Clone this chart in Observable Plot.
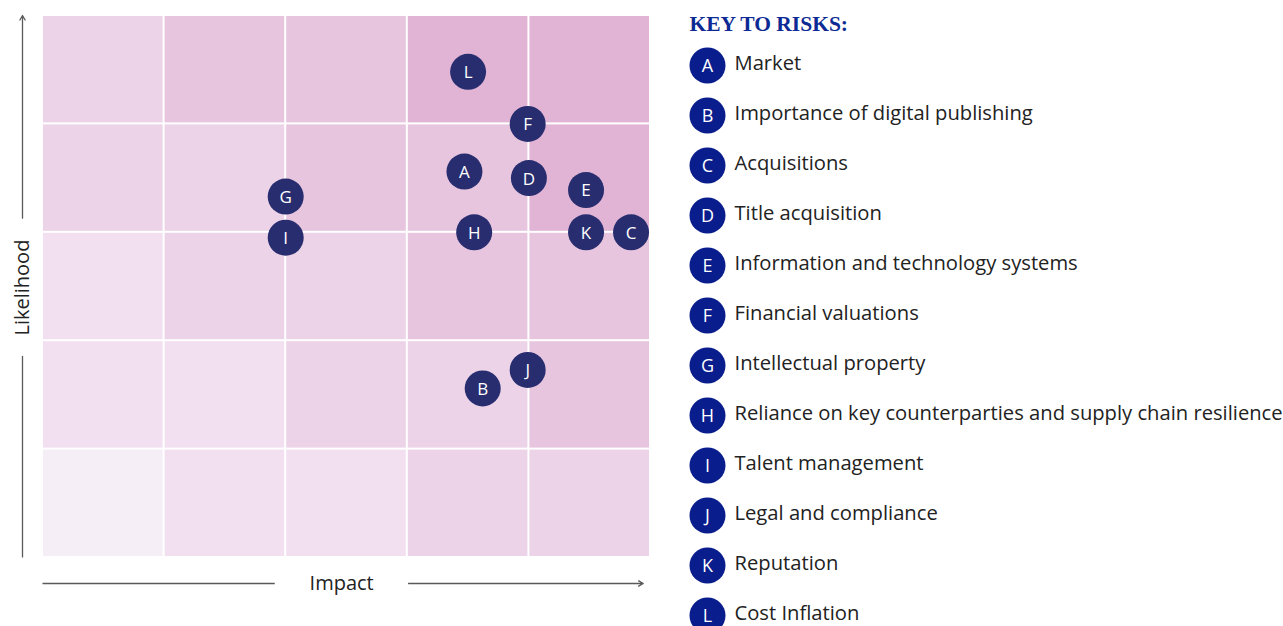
<!DOCTYPE html>
<html>
<head>
<meta charset="utf-8">
<script src="https://cdn.jsdelivr.net/npm/d3@7"></script>
<script src="https://cdn.jsdelivr.net/npm/@observablehq/plot@0.6"></script>
<style>
  html, body { margin: 0; padding: 0; background: #fff; }
  #wrap { display: flex; flex-direction: row; width: 1283px; height: 626px; overflow: hidden; }
  svg { display: block; }
</style>
</head>
<body>
<div id="wrap"></div>
<script>
// Risk letters, positions (impact, likelihood on a 0–5 grid) and names
const letters = ["A","B","C","D","E","F","G","H","I","J","K","L"];
const impact = [3.47, 3.62, 4.84, 4.00, 4.47, 3.99, 2.00, 3.55, 2.00, 3.99, 4.47, 3.50];
const likelihood = [3.56, 1.56, 3.00, 3.50, 3.39, 4.00, 3.33, 3.00, 2.95, 1.73, 3.00, 4.48];
const riskNames = [
  "Market",
  "Importance of digital publishing",
  "Acquisitions",
  "Title acquisition",
  "Information and technology systems",
  "Financial valuations",
  "Intellectual property",
  "Reliance on key counterparties and supply chain resilience",
  "Talent management",
  "Legal and compliance",
  "Reputation",
  "Cost Inflation"
];
// Heat-map shade level of each grid cell, top row (highest likelihood) first
const shadeRows = [
  [2, 3, 3, 4, 4],
  [2, 2, 3, 3, 4],
  [1, 2, 2, 3, 3],
  [1, 1, 2, 2, 3],
  [0, 1, 1, 2, 2]
];
const shadePalette = ["#f6eef6", "#f2e0f0", "#ecd3e8", "#e8c5de", "#e1b4d5"];
const titleText = "KEY TO RISKS:";
const xLabel = "Impact";
const yLabel = "Likelihood";

const points = letters.map((l, i) => ({letter: l, impact: impact[i], likelihood: likelihood[i]}));
const cells = [];
shadeRows.forEach((row, r) => row.forEach((lvl, c) => {
  cells.push({x1: c, x2: c + 1, y1: shadeRows.length - 1 - r, y2: shadeRows.length - r, fill: shadePalette[lvl]});
}));

const font = "'Open Sans', Lato, sans-serif";
const axisColor = "#5a5a5a";

const chart = Plot.plot({
  width: 660,
  height: 626,
  marginLeft: 42,
  marginRight: 10,
  marginTop: 15,
  marginBottom: 69,
  style: {fontFamily: font, background: "transparent", overflow: "visible"},
  x: {domain: [0, 5], axis: null},
  y: {domain: [0, 5], axis: null},
  marks: [
    Plot.rect(cells, {x1: "x1", x2: "x2", y1: "y1", y2: "y2", fill: "fill", inset: 1}),
    // axes (arrows)
    Plot.link([0], {x1: 0, x2: 0, y1: 0, y2: 1.86, dx: -20, stroke: axisColor, strokeWidth: 1.3}),
    Plot.arrow([0], {x1: 0, x2: 0, y1: 3.13, y2: 5, dx: -20, stroke: axisColor, strokeWidth: 1.3, headLength: 6}),
    Plot.link([0], {x1: 0, x2: 1.91, y1: 0, y2: 0, dy: 26, stroke: axisColor, strokeWidth: 1.3}),
    Plot.arrow([0], {x1: 3.01, x2: 4.94, y1: 0, y2: 0, dy: 26, stroke: axisColor, strokeWidth: 1.3, headLength: 6}),
    Plot.text([yLabel], {x: 0, y: 2.49, dx: -20, rotate: -90, text: d => d, fontSize: 20, fill: "#222", fontFamily: font}),
    Plot.text([xLabel], {x: 2.46, y: 0, dy: 26, text: d => d, fontSize: 20, fill: "#222", fontFamily: font}),
    // risks
    Plot.dot(points, {x: "impact", y: "likelihood", r: 18, fill: "#272d6f"}),
    Plot.text(points, {x: "impact", y: "likelihood", text: "letter", fill: "white", fontSize: 17, fontFamily: font, dy: 1})
  ]
});

const legend = Plot.plot({
  width: 623,
  height: 626,
  margin: 0,
  style: {fontFamily: font, background: "transparent", overflow: "visible"},
  y: {type: "point", domain: letters, range: [60, 619], padding: 0, axis: null},
  marks: [
    Plot.text([titleText], {frameAnchor: "top-left", dx: 29, dy: 24, text: d => d, textAnchor: "start", lineAnchor: "middle",
      fontFamily: "'Liberation Serif', 'DejaVu Serif', serif", fontWeight: "bold", fontSize: 21.5, fill: "#0d2a94"}),
    Plot.dot(letters, {y: d => d, frameAnchor: "left", dx: 47, r: 18, fill: "#0a1d8c"}),
    Plot.text(letters, {y: d => d, frameAnchor: "left", dx: 47, text: d => d, textAnchor: "middle", fill: "white", fontSize: 18, fontFamily: font, dy: 1}),
    Plot.text(letters, {y: d => d, frameAnchor: "left", dx: 74, text: (d, i) => riskNames[i], textAnchor: "start", fill: "#222", fontSize: 20.2, fontFamily: font, dy: -2})
  ]
});

const wrap = document.getElementById("wrap");
wrap.appendChild(chart);
wrap.appendChild(legend);
</script>
</body>
</html>
